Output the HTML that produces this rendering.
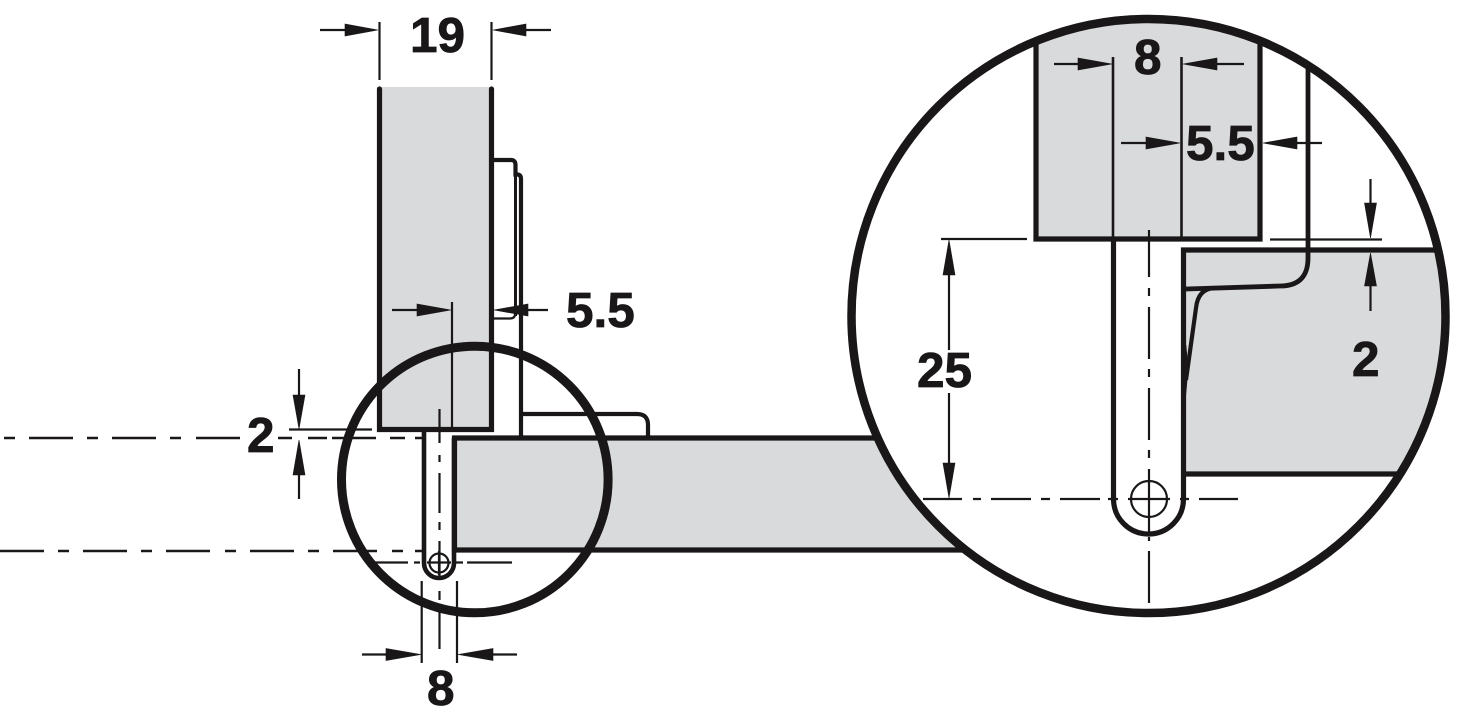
<!DOCTYPE html>
<html>
<head>
<meta charset="utf-8">
<style>
html,body{margin:0;padding:0;background:#fff;}
svg{display:block;}
text{font-family:"Liberation Sans",sans-serif;font-weight:700;font-size:49.5px;fill:#1a1718;stroke:#1a1718;stroke-width:.8;}
.t{stroke:#1a1718;stroke-width:2.2;fill:none;}
.m{stroke:#1a1718;stroke-width:4.2;fill:none;}
.k{stroke:#1a1718;stroke-width:5.2;fill:none;}
.a{fill:#1a1718;stroke:#1a1718;stroke-width:.6;}
</style>
</head>
<body>
<svg width="1458" height="717" viewBox="0 0 1458 717" xmlns="http://www.w3.org/2000/svg">
<defs>
<clipPath id="c"><circle cx="1148.5" cy="316" r="297"/></clipPath>
</defs>
<rect width="1458" height="717" fill="#fff"/>

<!-- LEFT DRAWING -->
<rect x="380" y="87" width="111" height="342" fill="#d9dadc"/>
<rect x="455" y="438" width="520" height="112" fill="#d9dadc"/>
<path class="k" d="M379.5 89V429.5H491.5V89" stroke-linecap="round"/>
<path class="k" d="M973 438H454.5V550H973"/>
<path class="m" style="stroke-width:4.6" d="M424 431V563A15 15 0 0 0 454 563V438"/>
<circle class="t" cx="439" cy="563" r="9.5"/>
<path class="t" d="M439 551V575"/>

<!-- hinge plate -->
<path class="m" d="M493 160H511Q515.5 160 515.5 165V174.5H518Q521 175 521 179V438"/>
<path class="m" style="stroke-width:3" d="M515.5 175V316"/>
<path class="t" d="M493 318.5H510Q515 318.5 515 314"/>
<path class="m" d="M520 414H637Q648 414 648 425V438"/>

<!-- small magnifier -->
<circle cx="474.8" cy="479.5" r="133.3" fill="none" stroke="#1a1718" stroke-width="9"/>

<!-- dim 19 -->
<path class="t" d="M379.5 22V80M491.5 22V80M320 30H350M522 30H551"/>
<polygon class="a" points="378,30 345,24 345,36"/>
<polygon class="a" points="493,30 526,24 526,36"/>
<text x="410" y="52">19</text>

<!-- dim 5.5 -->
<path class="t" d="M452 302V430M392 310H420M525 310H548"/>
<polygon class="a" points="451,310 417,304 417,316"/>
<polygon class="a" points="494,310 528,304 528,316"/>
<text x="566" y="327">5.5</text>

<!-- dim 2 -->
<path class="t" d="M299 369V398M299 472V499M289 429.5H372"/>
<polygon class="a" points="299,429 293,395 305,395"/>
<polygon class="a" points="299,440 293,475 305,475"/>
<text x="247" y="452">2</text>

<!-- dash-dot lines left -->
<path class="t" style="stroke-width:2.6" d="M4 438H15M29 438H73M87 438H98M112 438H156M170 438H181M196 438H240M278 438H292M308 438H327M332 438H376M390 438H405M415 438H423"/>
<path class="t" style="stroke-width:2.6" d="M0 551H44M58 551H69M83 551H127M141 551H152M166 551H210M225 551H236M250 551H294M308 551H319M333 551H377M392 551H403M415 551H423"/>
<path class="t" d="M372 562.5H408M414 562.5H420M427 562.5H451M454 562.5H463M467 562.5H512"/>
<path class="t" d="M439.5 409V443M439.5 455V462M439.5 473V513M439.5 522V530M439.5 541V578M439.5 591V600M439.5 611V649"/>

<!-- dim 8 bottom -->
<path class="t" d="M421.7 581V663M457 581V663M362 654.5H390M490 654.5H517"/>
<polygon class="a" points="421,654.5 386,648.5 386,660.5"/>
<polygon class="a" points="458,654.5 493,648.5 493,660.5"/>
<text x="427" y="705">8</text>

<!-- BIG MAGNIFIER -->
<circle cx="1148.5" cy="316" r="297" fill="#fff"/>
<g clip-path="url(#c)">
<rect x="1036" y="0" width="224" height="239" fill="#d9dadc"/>
<path d="M1184 250H1460V474H1184Z" fill="#d9dadc"/>
<path class="k" d="M1036 0V239H1260V0"/>
<path class="k" d="M1113.5 239V499A35 35 0 0 0 1183.5 499V250H1460"/>
<path class="k" d="M1183.5 474H1460"/>
<path class="m" style="stroke-width:4.8" d="M1308 0V258Q1308 286 1280 286L1186 289"/>
<path class="m" d="M1214 288Q1198 289 1196 308L1186 380"/>
<polygon class="a" points="1186,345 1188,370 1184,415 1182,415"/>
<path class="t" style="stroke-width:2.6" d="M1113 57V239M1181.5 57V239"/>
<!-- centerlines -->
<path class="t" d="M1149 230V277M1149 288V296M1149 307V359M1149 369V377M1149 388V440M1149 450V458M1149 469V535M1149 537V541M1149 551V603"/>
<path class="t" d="M923 499H962M973 499H981M991 499H1031M1041 499H1050M1060 499H1100M1108 499H1118M1128 499H1170M1180 499H1189M1199 499H1238"/>
<circle class="t" cx="1149" cy="499" r="18"/>
</g>

<circle cx="1148.5" cy="316" r="297" fill="none" stroke="#1a1718" stroke-width="8.5"/>

<!-- big dims -->
<path class="t" d="M941 239H1027M949 272V350M949 393V466"/>
<polygon class="a" points="949,240 943,275 955,275"/>
<polygon class="a" points="949,498 943,463 955,463"/>
<text x="917" y="387">25</text>

<path class="t" d="M1054 64H1082M1215 64H1244"/>
<polygon class="a" points="1112,64 1078,58 1078,70"/>
<polygon class="a" points="1183,64 1217,58 1217,70"/>
<text x="1134" y="74">8</text>

<path class="t" d="M1121 143H1150M1295 143H1322"/>
<polygon class="a" points="1180,143 1146,137 1146,149"/>
<polygon class="a" points="1263,143 1297,137 1297,149"/>
<text x="1186" y="160">5.5</text>

<path class="t" d="M1270 239.5H1382M1370.5 179V206M1370.5 284V311"/>
<polygon class="a" points="1370.5,238 1364.5,203 1376.5,203"/>
<polygon class="a" points="1370.5,253 1364.5,286 1376.5,286"/>
<text x="1352" y="376">2</text>
</svg>
</body>
</html>
